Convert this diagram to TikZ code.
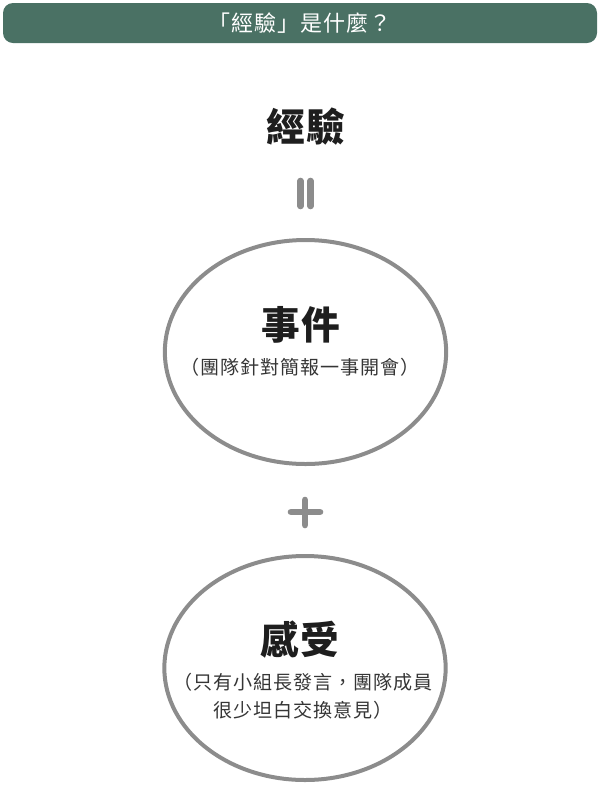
\documentclass[tikz,border=0pt]{standalone}
\usepackage{fontspec}
\setmainfont{Noto Sans CJK TC}
\usetikzlibrary{shapes.geometric,positioning}
\definecolor{headgreen}{HTML}{4A7164}
\definecolor{signgray}{HTML}{8C8C8C}
\definecolor{inkdark}{HTML}{1E1E1E}

\begin{document}
\begin{tikzpicture}[x=0.75pt,y=-0.75pt]

  % Define styles
  \tikzset{headbar/.style={fill=headgreen, rounded corners=7.5pt, minimum width=445.5pt, minimum height=30pt, inner sep=0pt, text=white, font=\fontsize{16.5}{19}\selectfont\addfontfeature{LetterSpace=4}},
    bubble/.style={draw=signgray, line width=3pt, ellipse, minimum width=211pt, minimum height=168pt, inner sep=0pt},
    bigword/.style={text=inkdark, font=\fontsize{29}{34}\bfseries\addfontfeature{LetterSpace=2}, inner sep=0pt},
    smallword/.style={text=inkdark!90, font=\fontsize{14.3}{21}\selectfont\addfontfeature{LetterSpace=5}, align=center, inner sep=0pt},
    signbar/.style={draw=signgray, line width=5pt, line cap=round}}

  \useasboundingbox (0,0) rectangle (600,790);

  % Nodes
  \node[headbar] (head) at (300,23) {「經驗」是什麼？};
  \node[bigword] (exp) at (306,127) {經驗};

  \node[bubble] (event) at (305.5,352) {};
  \node[bigword] (eventword) at (301,325) {事件};
  \node[smallword] (eventnote) at (300,367) {（團隊針對簡報一事開會）};

  \node[bubble] (feel) at (305,668) {};
  \node[bigword] (feelword) at (300,640) {感受};
  \node[smallword] (feelnote) at (303,696) {（只有小組長發言，團隊成員\\很少坦白交換意見）};

  % Signs
  \draw[signbar] (300.5,181) -- (300.5,206);
  \draw[signbar] (310.5,181) -- (310.5,206);
  \draw[signbar] (291,512) -- (320,512);
  \draw[signbar] (305,500) -- (305,525);

\end{tikzpicture}
\end{document}
